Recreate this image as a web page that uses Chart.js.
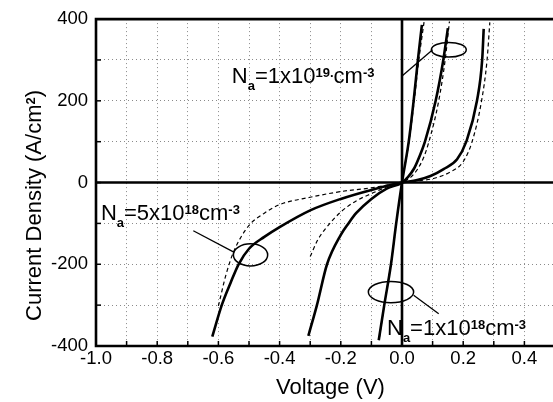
<!DOCTYPE html>
<html>
<head>
<meta charset="utf-8">
<script src="https://cdn.jsdelivr.net/npm/chart.js@4.4.1/dist/chart.umd.min.js"></script>
<style>
  html, body { margin: 0; padding: 0; background: #fff; overflow: hidden; }
  #wrap { position: relative; width: 560px; height: 402px; }
</style>
</head>
<body>
<div id="wrap"><canvas id="ivChart"></canvas></div>
<script>
// I-V curves: voltage (V) and current density (A/cm2), solid and dashed pairs
const steepSolidV  = [-0.076, -0.058, -0.036, -0.019, 0, 0.022, 0.038, 0.052, 0.065];
const steepSolidJ  = [-386, -300, -200, -100, 0, 100, 200, 300, 386];
const steepDashedV = [-0.074, -0.057, -0.036, -0.018, 0, 0.023, 0.040, 0.055, 0.073];
const steepDashedJ = [-380, -296, -198, -98, 0, 100, 200, 300, 398];

const midSolidV  = [-0.306, -0.278, -0.245, -0.2, -0.175, -0.15, -0.1, -0.05, 0, 0.02, 0.04, 0.055, 0.075, 0.11, 0.135, 0.15];
const midSolidJ  = [-375, -300, -200, -128, -100, -75, -40, -15, 0, 14, 35, 60, 100, 200, 300, 378];
const midDashedV = [-0.30, -0.275, -0.25, -0.2, -0.15, -0.1, -0.05, 0, 0.03, 0.05, 0.07, 0.088, 0.12, 0.141, 0.155];
const midDashedJ = [-181, -140, -113, -72, -45, -27, -11, 0, 14, 32, 60, 100, 200, 300, 394];

const wideSolidV  = [-0.62, -0.589, -0.56, -0.534, -0.5, -0.45, -0.4, -0.3, -0.2, -0.1, 0, 0.05, 0.093, 0.136, 0.18, 0.21, 0.245, 0.262, 0.267];
const wideSolidJ  = [-377, -300, -245, -200, -162, -133, -109, -68, -40, -18, 0, 6, 16, 33, 57, 100, 200, 300, 376];
const wideDashedV = [-0.60, -0.575, -0.55, -0.5, -0.45, -0.4, -0.3, -0.2, -0.1, 0, 0.05, 0.103, 0.158, 0.2, 0.229, 0.26, 0.278, 0.287];
const wideDashedJ = [-302, -225, -169, -105, -75, -54, -36, -22, -13, 0, 4, 10, 26, 51, 100, 200, 300, 392];

// labelled ticks (grid runs every 0.1 V / 100 A/cm2)
const xTickLabels = [-1.0, -0.8, -0.6, -0.4, -0.2, 0.0, 0.2, 0.4];
const yTickLabels = [-400, -200, 0, 200, 400];

const xTitle = [['Voltage (V)']];
const yTitle = [['Current Density (A/cm'], ['2', 'sup'], [')']];

// doping labels as text runs (plain / sub / sup)
const labelHigh = [['N'], ['a', 'sub'], ['=1x10'], ['19.', 'sup'], ['cm'], ['-3', 'sup']];
const labelMid  = [['N'], ['a', 'sub'], ['=5x10'], ['18', 'sup'], ['cm'], ['-3', 'sup']];
const labelLow  = [['N'], ['a', 'sub'], ['=1x10'], ['18', 'sup'], ['cm'], ['-3', 'sup']];

function pts(vs, js) {
  return vs.map((v, i) => ({ x: v, y: js[i] }));
}

function curve(vs, js, dashed) {
  return {
    data: pts(vs, js),
    showLine: true,
    borderColor: '#000',
    borderWidth: dashed ? 1.2 : 2.6,
    borderDash: dashed ? [4, 3] : [],
    pointRadius: 0,
    cubicInterpolationMode: 'monotone',
    fill: false
  };
}

// callouts: text anchor, leader line and ellipse, all in data units
const callouts = [
  { runs: labelHigh, at: [-0.556, 244], leader: [[0.002, 262], [0.100, 325]], ellipse: [0.153, 325, 0.057, 18] },
  { runs: labelMid,  at: [-0.984, -91], leader: [[-0.682, -118], [-0.548, -171]], ellipse: [-0.495, -177, 0.056, 27] },
  { runs: labelLow,  at: [-0.049, -374], leader: [[0.038, -276], [0.120, -321]], ellipse: [-0.036, -268, 0.074, 26] }
];

const FONT = '"Liberation Sans", Arial, sans-serif';

function runFont(kind, big) {
  if (kind === 'sup' || kind === 'sub') return 'bold 13px ' + FONT;
  return big + 'px ' + FONT;
}

function runsWidth(ctx, runs, big) {
  let w = 0;
  runs.forEach(([t, kind]) => { ctx.font = runFont(kind, big); w += ctx.measureText(t).width; });
  return w;
}

function drawRuns(ctx, runs, x, y, big) {
  runs.forEach(([t, kind]) => {
    ctx.font = runFont(kind, big);
    let dy = 0;
    if (kind === 'sup') dy = -6;
    if (kind === 'sub') dy = 7;
    ctx.fillText(t, x, y + dy);
    x += ctx.measureText(t).width;
  });
}

function line(ctx, x1, y1, x2, y2) {
  ctx.beginPath();
  ctx.moveTo(x1, y1);
  ctx.lineTo(x2, y2);
  ctx.stroke();
}

const axisDecor = {
  id: 'axisDecor',
  beforeDatasetsDraw(chart) {
    const { ctx, chartArea: a, scales: { x, y } } = chart;
    ctx.save();
    ctx.strokeStyle = '#000';
    // inward tick marks
    ctx.lineWidth = 1.5;
    y.ticks.forEach(t => {
      const py = y.getPixelForValue(t.value);
      line(ctx, a.left, py, a.left + 5, py);
    });
    x.ticks.forEach(t => {
      const px = x.getPixelForValue(t.value);
      line(ctx, px, a.bottom, px, a.bottom - 5);
    });
    // zero axes and frame
    ctx.lineWidth = 2.6;
    const x0 = x.getPixelForValue(0), y0 = y.getPixelForValue(0);
    line(ctx, x0, a.top, x0, a.bottom);
    line(ctx, a.left, y0, a.right, y0);
    ctx.beginPath();
    ctx.moveTo(a.right + 2, a.top);
    ctx.lineTo(a.left, a.top);
    ctx.lineTo(a.left, a.bottom);
    ctx.lineTo(a.right + 2, a.bottom);
    ctx.stroke();
    ctx.restore();
  },
  afterDatasetsDraw(chart) {
    const { ctx, chartArea: a, scales: { x, y } } = chart;
    ctx.save();
    ctx.strokeStyle = '#000';
    ctx.fillStyle = '#000';
    ctx.textBaseline = 'alphabetic';
    ctx.textAlign = 'left';

    callouts.forEach(c => {
      ctx.lineWidth = 1.3;
      const [p1, p2] = c.leader;
      line(ctx, x.getPixelForValue(p1[0]), y.getPixelForValue(p1[1]),
                x.getPixelForValue(p2[0]), y.getPixelForValue(p2[1]));
      const [ev, ej, rv, rj] = c.ellipse;
      const cx = x.getPixelForValue(ev), cy = y.getPixelForValue(ej);
      const rx = Math.abs(x.getPixelForValue(ev + rv) - cx);
      const ry = Math.abs(y.getPixelForValue(ej + rj) - cy);
      ctx.lineWidth = 1.5;
      ctx.beginPath();
      ctx.ellipse(cx, cy, rx, ry, 0, 0, Math.PI * 2);
      ctx.stroke();
      drawRuns(ctx, c.runs, x.getPixelForValue(c.at[0]), y.getPixelForValue(c.at[1]), 22);
    });

    // axis titles
    const xw = runsWidth(ctx, xTitle, 22);
    drawRuns(ctx, xTitle, (a.left + a.right) / 2 + 5 - xw / 2, 394, 22);

    const yw = runsWidth(ctx, yTitle, 22);
    ctx.translate(40.7, a.top + (a.bottom - a.top) * 0.57);
    ctx.rotate(-Math.PI / 2);
    drawRuns(ctx, yTitle, -yw / 2, 0, 22);
    ctx.restore();
  }
};

const tickFont = { family: FONT, size: 18.5 };

new Chart(document.getElementById('ivChart'), {
  type: 'scatter',
  data: {
    datasets: [
      curve(steepSolidV, steepSolidJ, false),
      curve(steepDashedV, steepDashedJ, true),
      curve(midSolidV, midSolidJ, false),
      curve(midDashedV, midDashedJ, true),
      curve(wideSolidV, wideSolidJ, false),
      curve(wideDashedV, wideDashedJ, true)
    ]
  },
  options: {
    responsive: true,
    maintainAspectRatio: false,
    animation: false,
    layout: { padding: { top: 17.5, right: 5, left: 0, bottom: 0 } },
    plugins: { legend: { display: false }, tooltip: { enabled: false } },
    scales: {
      x: {
        type: 'linear', min: -1.0, max: 0.5,
        afterFit(scale) { scale.height = 56; },
        grid: { color: '#8a8a8a', lineWidth: 1, drawTicks: false },
        border: { display: false, dash: [1, 3] },
        ticks: {
          stepSize: 0.1, autoSkip: false, maxRotation: 0, padding: 2,
          color: '#000', font: tickFont,
          callback: v => xTickLabels.some(t => Math.abs(t - v) < 1e-6) ? Number(v).toFixed(1) : ''
        }
      },
      y: {
        type: 'linear', min: -400, max: 400,
        afterFit(scale) { scale.width = 96; },
        grid: { color: '#8a8a8a', lineWidth: 1, drawTicks: false },
        border: { display: false, dash: [1, 3] },
        ticks: {
          stepSize: 100, autoSkip: false, padding: 8,
          color: '#000', font: tickFont,
          callback: v => yTickLabels.includes(Math.round(v)) ? String(Math.round(v)) : ''
        }
      }
    }
  },
  plugins: [axisDecor]
});
</script>
</body>
</html>
